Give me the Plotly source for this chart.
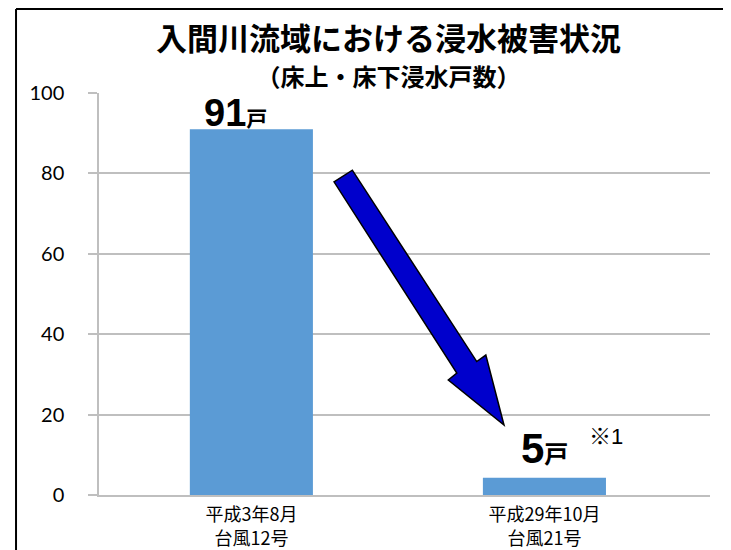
import plotly.graph_objects as go

# ---- data ----
categories = ["平成3年8月<br>台風12号", "平成29年10月<br>台風21号"]
houses = [91, 4.3]
value_labels = ["91", "5"]
unit_label = "戸"
note_label = "※1"
title_text = "入間川流域における浸水被害状況"
subtitle_text = "（床上・床下浸水戸数）"
y_ticks = [0, 20, 40, 60, 80, 100]

# arrow outline (data coordinates: category index, value)
arrow_x = [0.282, 0.3445, 0.769, 0.800, 0.862, 0.672, 0.701]
arrow_y = [77.9, 80.8, 33.2, 34.8, 17.4, 28.6, 30.3]

CJK = "Noto Sans CJK JP"
GRID = "#BFBFBF"

fig = go.Figure()
fig.add_trace(go.Bar(
    x=categories, y=houses, width=0.42,
    marker=dict(color="#5B9BD5", line=dict(width=0)),
    showlegend=False, hoverinfo="x+y",
))

path = "M " + " L ".join(f"{x},{y}" for x, y in zip(arrow_x, arrow_y)) + " Z"
fig.add_shape(type="path", path=path, xref="x", yref="y",
              fillcolor="#0000CC", line=dict(color="black", width=1.5), layer="above")

# frame lines
fig.add_shape(type="line", xref="paper", yref="paper", x0=-0.1358, x1=-0.1358,
              y0=1.209, y1=-0.16, line=dict(color="black", width=2))
fig.add_shape(type="line", xref="paper", yref="paper", x0=-0.1358, x1=1.2,
              y0=1.209, y1=1.209, line=dict(color="black", width=2))

# title + subtitle (one block)
fig.add_annotation(
    text=(f"<b><span style='font-size:31px'>{title_text}</span></b><br>"
          f"<b><span style='font-size:24px'>{subtitle_text}</span></b>"),
    xref="paper", yref="paper", x=0.474, y=1.098,
    xanchor="center", yanchor="middle", showarrow=False,
    font=dict(family=CJK, size=28, color="black"))

# value labels
fig.add_annotation(
    text=f"<b>{value_labels[0]}</b><b><span style='font-size:21px'>{unit_label}</span></b>",
    x=categories[0], y=houses[0], xref="x", yref="y", xshift=-16, yshift=-7,
    xanchor="center", yanchor="bottom", showarrow=False,
    font=dict(family="Liberation Sans, " + CJK, size=38, color="black"))
fig.add_annotation(
    text=f"<b>{value_labels[1]}</b><b><span style='font-size:24px'>{unit_label}</span></b>",
    x=categories[1], y=houses[1], xref="x", yref="y", yshift=4,
    xanchor="center", yanchor="bottom", showarrow=False,
    font=dict(family="Liberation Sans, " + CJK, size=42, color="black"))
fig.add_annotation(
    text=note_label, x=1.21, y=14.6, xref="x", yref="y",
    xanchor="center", yanchor="middle", showarrow=False,
    font=dict(family="Liberation Sans, " + CJK, size=22, color="black"))

# page body has an 8px margin: compensate in the figure margins
fig.update_layout(
    width=731, height=550,
    margin=dict(l=91, r=29, t=85, b=63),
    paper_bgcolor="white", plot_bgcolor="white",
)
fig.update_xaxes(
    type="category", range=[-0.52, 1.565],
    showline=True, linecolor=GRID, linewidth=1.5,
    showgrid=False, ticks="",
    ticklabelstandoff=3, automargin=False,
    tickfont=dict(family=CJK, size=18, color="black"),
)
fig.update_yaxes(
    range=[0, 100], tickvals=y_ticks,
    showgrid=True, gridcolor=GRID, gridwidth=1.5,
    showline=True, linecolor=GRID, linewidth=1.5,
    ticks="outside", ticklen=9, tickcolor=GRID, tickwidth=1.5,
    ticklabelstandoff=20, automargin=False,
    zeroline=False,
    tickfont=dict(family="Lato", size=20, color="black"),
)

fig.write_html("out.html")
